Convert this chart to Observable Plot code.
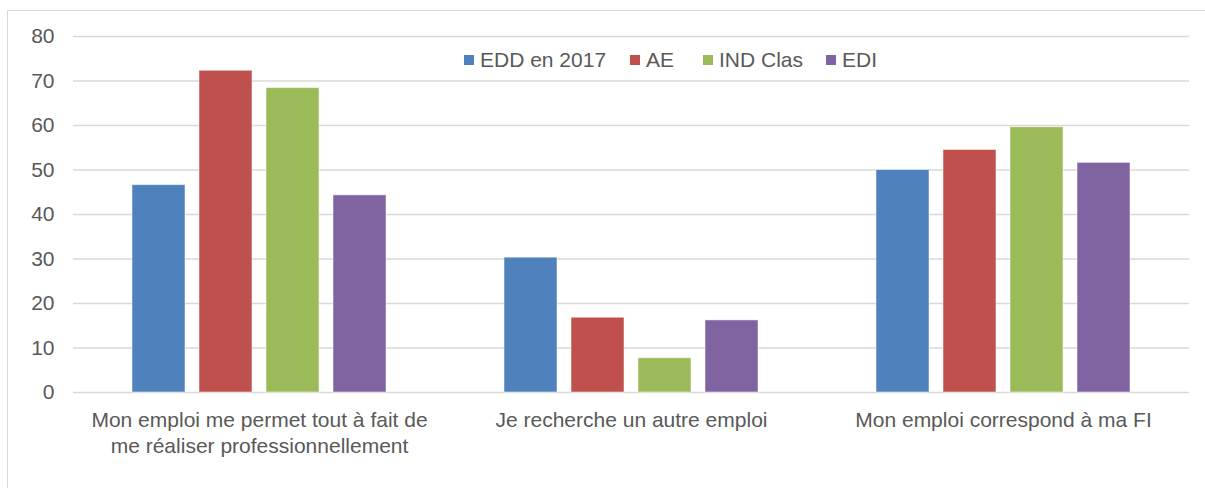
<!DOCTYPE html>
<html>
<head>
<meta charset="utf-8">
<script src="https://cdn.jsdelivr.net/npm/d3@7"></script>
<script src="https://cdn.jsdelivr.net/npm/@observablehq/plot@0.6"></script>
<style>
  html, body { margin: 0; padding: 0; background: #fff; }
  #wrap { position: relative; width: 1205px; height: 488px; overflow: hidden; font-family: "Liberation Sans", Arial, sans-serif; }
  #frame { position: absolute; left: 7px; top: 10px; width: 1210px; height: 490px; border-left: 1.5px solid #d9d9d9; border-top: 1.5px solid #d9d9d9; box-sizing: border-box; }
  #legend { position: absolute; top: 0; left: 0; font-size: 21px; color: #595959; }
  #legend .item { position: absolute; top: 47px; display: flex; align-items: center; height: 26px; white-space: nowrap; }
  #legend .sw { width: 10px; height: 10px; margin-right: 6px; }
  svg { position: absolute; left: 0; top: 0; }
</style>
</head>
<body>
<div id="wrap"><div id="frame"></div><div id="legend"></div></div>
<script>
const categories = [
  "Mon emploi me permet tout à fait de\nme réaliser professionnellement",
  "Je recherche un autre emploi",
  "Mon emploi correspond à ma FI"
];
const series = ["EDD en 2017", "AE", "IND Clas", "EDI"];
const colors = ["#4f81bd", "#c0504d", "#9bbb59", "#8064a2"];
const valuesEDD = [46.6, 30.3, 50.0];
const valuesAE = [72.3, 16.8, 54.5];
const valuesIND = [68.4, 7.7, 59.6];
const valuesEDI = [44.3, 16.2, 51.6];
const yTicks = [0, 10, 20, 30, 40, 50, 60, 70, 80];

const seriesValues = [valuesEDD, valuesAE, valuesIND, valuesEDI];
const data = [];
categories.forEach((c, i) => {
  series.forEach((s, j) => data.push({cat: c, series: s, value: seriesValues[j][i]}));
});

const chart = Plot.plot({
  width: 1205,
  height: 488,
  marginTop: 36,
  marginBottom: 96,
  marginLeft: 72,
  marginRight: 15,
  style: {fontFamily: "'Liberation Sans', Arial, sans-serif", fontSize: "21px", color: "#595959", background: "transparent"},
  fx: {domain: categories, padding: 0, label: null, axis: null},
  x: {domain: series, paddingInner: 0.215, paddingOuter: 0.86, axis: null},
  y: {domain: [0, 80], label: null, axis: null},
  color: {domain: series, range: colors},
  marks: [
    Plot.ruleY(yTicks, {stroke: "#d9d9d9", strokeWidth: 1.5, strokeOpacity: 1}),
    Plot.barY(data, {fx: "cat", x: "series", y: "value", fill: "series", stroke: "#ffffff", strokeOpacity: 0.5, strokeWidth: 1}),
    Plot.axisY(yTicks, {tickSize: 0, tickPadding: 19, fontSize: 21, fill: "#595959", label: null}),
    Plot.axisFx({anchor: "bottom", tickSize: 0, tickPadding: 17, fontSize: 21, fill: "#595959", lineHeight: 1.2, label: null})
  ]
});
document.getElementById("wrap").appendChild(chart);

const legendX = [464, 630, 703, 826];
const legend = document.getElementById("legend");
series.forEach((s, i) => {
  const item = document.createElement("div");
  item.className = "item";
  item.style.left = legendX[i] + "px";
  const sw = document.createElement("div");
  sw.className = "sw";
  sw.style.background = colors[i];
  const t = document.createElement("span");
  t.textContent = s;
  item.appendChild(sw);
  item.appendChild(t);
  legend.appendChild(item);
});
</script>
</body>
</html>
